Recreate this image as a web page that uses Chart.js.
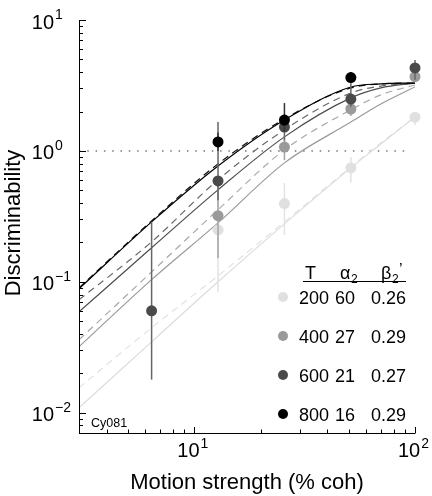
<!DOCTYPE html>
<html>
<head>
<meta charset="utf-8">
<script src="https://cdn.jsdelivr.net/npm/chart.js@4.4.1/dist/chart.umd.min.js"></script>
<style>
html, body { margin: 0; padding: 0; background: #fff; }
#wrap { width: 432px; height: 496px; }
</style>
</head>
<body>
<div id="wrap"><canvas id="chart" width="432" height="496"></canvas></div>
<script>
// coherence levels (% coh) where data were measured
const cohLevels = [6.4, 12.8, 25.6, 51.2, 100];

// viewing duration T (ms) and fit parameters shown in the inset table
const durations = ['200', '400', '600', '800'];
const alpha2 = ['60', '27', '21', '16'];
const beta2 = ['0.26', '0.29', '0.27', '0.29'];

// measured discriminability (null = no point)
const d200 = [null, 0.249, 0.396, 0.742, 1.81];
const d400 = [null, 0.32, 1.07, 2.09, 3.69];
const d600 = [0.060, 0.59, 1.52, 2.49, 4.30];
const d800 = [null, 1.17, 1.72, 3.63, null];

// error bar limits
const lo200 = [null, 0.084, 0.228, 0.57, 1.58];
const hi200 = [null, 0.45, 0.57, 0.90, 1.98];
const lo400 = [null, 0.152, 0.85, 1.85, 3.4];
const hi400 = [null, 0.55, 1.3, 2.4, 4.0];
const lo600 = [0.0179, 0.42, 1.2, 2.17, 3.5];
const hi600 = [0.287, 1.66, 1.9, 3.6, 4.95];
const lo800 = [null, 1.0, 1.4, 3.3, null];
const hi800 = [null, 1.38, 2.32, 4.0, null];

// fitted curves
const fitCoh = [3, 6.4, 12.8, 25.6, 51.2, 70, 100];
const fit200 = [0.0109, 0.0348, 0.100, 0.277, 0.742, 1.13, 1.82];
const fit200b = [0.0155, 0.0446, 0.111, 0.287, 0.755, 1.15, 1.82];
const fit400 = [0.0319, 0.104, 0.282, 0.81, 1.66, 2.28, 3.08];
const fit400b = [0.0361, 0.119, 0.355, 1.02, 2.06, 2.68, 3.19];
const fit600 = [0.059, 0.182, 0.504, 1.28, 2.54, 3.03, 3.30];
const fit600b = [0.0729, 0.202, 0.601, 1.45, 2.77, 3.13, 3.30];
const fit800 = [0.0885, 0.287, 0.768, 1.725, 3.08, 3.25, 3.30];
const fit800b = [0.090, 0.292, 0.796, 1.755, 3.03, 3.25, 3.30];

// reference line at d' = 1
const refCoh = [3, 92];
const refVal = [1, 1];

const yMajorTicks = [0.01, 0.1, 1, 10];
const yTickExp = ['\u22122', '\u22121', '0', '1'];
const xMajorTicks = [10, 100];
const xTickExp = ['1', '2'];

const pointColors = ['#e0e0e0', '#9a9a9a', '#4a4a4a', '#000000'];
const barColors = ['#e2e2e2', '#a3a3a3', '#666666', '#333333'];
const lineColors = ['#dcdcdc', '#9a9a9a', '#4c4c4c', '#000000'];
const dashColors = ['#e2e2e2', '#a8a8a8', '#6a6a6a', '#111111'];

const FONT = '"Liberation Sans", Arial, Helvetica, sans-serif';

function pts(xs, ys) {
    const out = [];
    xs.forEach((x, i) => { if (ys[i] != null) out.push({ x: x, y: ys[i] }); });
    return out;
}

const dValues = [d200, d400, d600, d800];
const loValues = [lo200, lo400, lo600, lo800];
const hiValues = [hi200, hi400, hi600, hi800];
const fitSolid = [fit200, fit400, fit600, fit800];
const fitDashed = [fit200b, fit400b, fit600b, fit800b];

const datasets = [];
datasets.push({
    data: pts(refCoh, refVal), showLine: true, borderColor: '#777', borderWidth: 1.5,
    borderDash: [1.5, 6.8], pointRadius: 0, order: 40
});
for (let i = 0; i < 4; i++) {
    datasets.push({
        data: pts(fitCoh, fitDashed[i]), showLine: true, borderColor: dashColors[i],
        borderWidth: 1.2, borderDash: [7, 5], pointRadius: 0, order: 39 - 2 * i,
        cubicInterpolationMode: 'monotone'
    });
    datasets.push({
        data: pts(fitCoh, fitSolid[i]), showLine: true, borderColor: lineColors[i],
        borderWidth: 1.2, pointRadius: 0, order: 38 - 2 * i,
        cubicInterpolationMode: 'monotone'
    });
}
for (let i = 0; i < 4; i++) {
    datasets.push({
        data: pts(cohLevels, dValues[i]), showLine: false, pointRadius: 5.5,
        pointBackgroundColor: pointColors[i], pointBorderWidth: 0, order: 13 - i,
        clip: false, series: i
    });
}

function drawPow(ctx, x, y, exp, align) {
    // "10" with a raised exponent; align 'right' puts 10 right edge at x, 'center' centres the whole label
    ctx.font = '20px ' + FONT;
    const wb = ctx.measureText('10').width;
    ctx.font = '14px ' + FONT;
    const we = ctx.measureText(exp).width;
    let x0 = align === 'right' ? x - wb : x - (wb + we) / 2;
    ctx.textAlign = 'left';
    ctx.textBaseline = 'alphabetic';
    ctx.font = '20px ' + FONT;
    ctx.fillText('10', x0, y);
    ctx.font = '14px ' + FONT;
    ctx.fillText(exp, x0 + wb + 1, y - 9.5);
}

const decor = {
    id: 'decor',
    beforeDatasetDraw(chart, args) {
        const ds = chart.data.datasets[args.index];
        if (ds.series == null) return;
        const i = ds.series, ctx = chart.ctx;
        const xs = chart.scales.x, ys = chart.scales.y;
        ctx.save();
        ctx.strokeStyle = barColors[i];
        ctx.lineWidth = 1.5;
        cohLevels.forEach((c, k) => {
            if (loValues[i][k] == null) return;
            const px = xs.getPixelForValue(c);
            ctx.beginPath();
            ctx.moveTo(px, ys.getPixelForValue(loValues[i][k]));
            ctx.lineTo(px, ys.getPixelForValue(hiValues[i][k]));
            ctx.stroke();
        });
        ctx.restore();
    },
    afterDraw(chart) {
        const ctx = chart.ctx, a = chart.chartArea;
        const xs = chart.scales.x, ys = chart.scales.y;
        ctx.save();
        ctx.strokeStyle = '#000';
        ctx.lineWidth = 1;
        ctx.beginPath();
        ctx.moveTo(a.left + 0.5, a.top);
        ctx.lineTo(a.left + 0.5, a.bottom + 0.5);
        ctx.lineTo(a.right + 0.5, a.bottom + 0.5);
        ctx.stroke();

        // y ticks, pointing inward
        ctx.beginPath();
        for (let e = -3; e <= 1; e++) {
            for (let m = 1; m <= 9; m++) {
                const v = m * Math.pow(10, e);
                if (v < 0.007 - 1e-9 || v > 10 + 1e-9) continue;
                const py = Math.round(ys.getPixelForValue(v)) + 0.5;
                ctx.moveTo(a.left, py);
                ctx.lineTo(a.left + (m === 1 ? 7 : 4), py);
            }
        }
        // x ticks, pointing inward
        for (let e = 0; e <= 2; e++) {
            for (let m = 1; m <= 9; m++) {
                const v = m * Math.pow(10, e);
                if (v < 3 || v > 100) continue;
                const px = Math.round(xs.getPixelForValue(v)) + 0.5;
                ctx.moveTo(px, a.bottom);
                ctx.lineTo(px, a.bottom - (m === 1 ? 6 : 3.5));
            }
        }
        ctx.stroke();

        ctx.fillStyle = '#000';
        yMajorTicks.forEach((v, k) => {
            drawPow(ctx, 54, ys.getPixelForValue(v) + 8.5, yTickExp[k], 'right');
        });
        xMajorTicks.forEach((v, k) => {
            drawPow(ctx, xs.getPixelForValue(v) - 2, a.bottom + 24, xTickExp[k], 'center');
        });

        // axis titles
        ctx.font = '22px ' + FONT;
        ctx.textAlign = 'center';
        ctx.textBaseline = 'alphabetic';
        ctx.fillText('Motion strength (% coh)', (a.left + a.right) / 2, 489);
        ctx.save();
        ctx.translate(20, 223);
        ctx.rotate(-Math.PI / 2);
        ctx.fillText('Discriminability', 0, 0);
        ctx.restore();

        // session label
        ctx.font = '12.5px ' + FONT;
        ctx.textAlign = 'left';
        ctx.fillText('Cy081', 91, 427);

        // inset table
        ctx.font = '18px ' + FONT;
        ctx.fillText('T', 305, 279);
        ctx.fillText('\u03b1', 340, 279);
        ctx.fillText('\u03b2', 381, 279);
        ctx.font = '12px ' + FONT;
        ctx.fillText('2', 351, 283);
        ctx.fillText('2', 392, 283);
        ctx.font = '16px ' + FONT;
        ctx.fillText('\u2019', 399, 275);
        ctx.beginPath();
        ctx.moveTo(303, 281.5);
        ctx.lineTo(406, 281.5);
        ctx.stroke();

        ctx.font = '18px ' + FONT;
        durations.forEach((t, k) => {
            const cy = 297 + 39 * k;
            ctx.fillStyle = pointColors[k];
            ctx.beginPath();
            ctx.arc(283, cy, 5, 0, Math.PI * 2);
            ctx.fill();
            ctx.fillStyle = '#000';
            ctx.fillText(t, 299, cy + 6.5);
            ctx.fillText(alpha2[k], 335, cy + 6.5);
            ctx.fillText(beta2[k], 371, cy + 6.5);
        });
        ctx.restore();
    }
};

new Chart(document.getElementById('chart'), {
    type: 'scatter',
    data: { datasets: datasets },
    options: {
        responsive: false,
        animation: false,
        events: [],
        layout: { padding: { left: 79, right: 17, top: 20, bottom: 63 } },
        plugins: { legend: { display: false }, tooltip: { enabled: false } },
        scales: {
            x: { type: 'logarithmic', min: 3, max: 100, display: false },
            y: { type: 'logarithmic', min: 0.007, max: 10, display: false }
        }
    },
    plugins: [decor]
});
</script>
</body>
</html>
